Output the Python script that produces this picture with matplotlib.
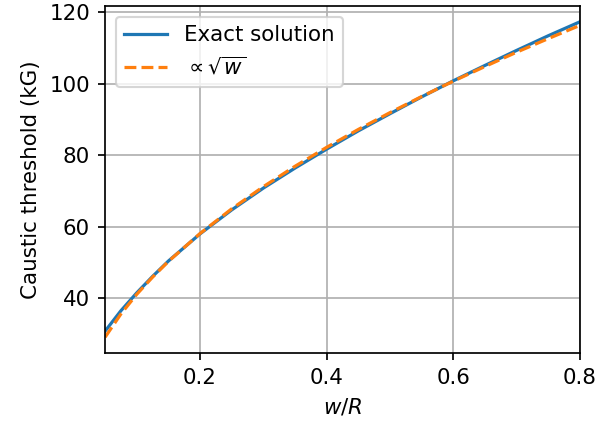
import matplotlib
matplotlib.use("Agg")
import matplotlib.pyplot as plt

w_over_R = [0.05, 0.075, 0.1, 0.125, 0.15, 0.2, 0.25, 0.3, 0.35, 0.4, 0.45, 0.5, 0.55, 0.6, 0.65, 0.7, 0.75, 0.8]
exact = [30.8, 36.5, 41.5, 46.1, 50.4, 58.0, 64.7, 70.8, 76.4, 81.7, 86.8, 91.6, 96.3, 100.8, 105.1, 109.3, 113.4, 117.3]
sqrt_fit = [29.1, 35.6, 41.1, 45.9, 50.3, 58.1, 65.0, 71.2, 76.9, 82.2, 87.2, 91.9, 96.4, 100.7, 104.8, 108.8, 112.6, 116.3]

DPI = 154
fig = plt.figure(figsize=(597/DPI, 422/DPI), dpi=DPI)
ax = fig.add_axes([0.176, 0.1635, 0.7955, 0.8223])
ax.plot(w_over_R, exact, color="#1f77b4", label="Exact solution")
ax.plot(w_over_R, sqrt_fit, color="#ff7f0e", linestyle="--", label=r"$\propto\sqrt{w}$")
ax.set_xlim(0.05, 0.8)
ax.set_xticks([0.2, 0.4, 0.6, 0.8])
ax.set_yticks([40, 60, 80, 100, 120])
ax.grid(True)
ax.set_xlabel(r"$w/R$")
ax.set_ylabel("Caustic threshold (kG)")
ax.legend(loc="upper left")
fig.savefig("out.png", dpi=DPI)
